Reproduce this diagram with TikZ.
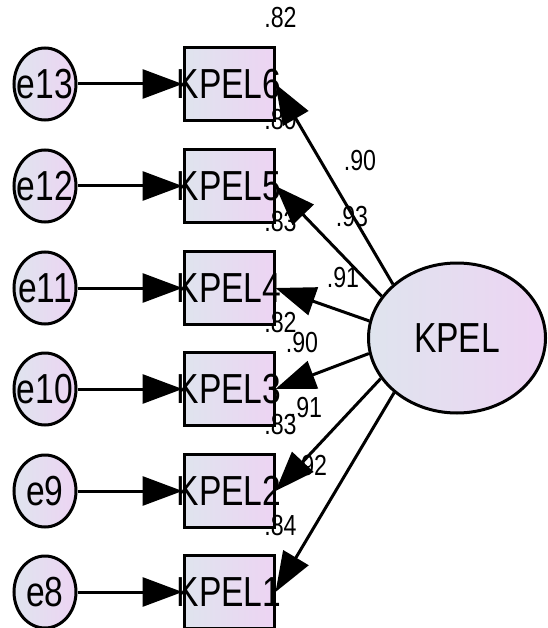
\documentclass[tikz,border=0pt]{standalone}
\usepackage{fontspec}
\newfontfamily\amosfont[FakeStretch=0.8]{Liberation Sans}
\usetikzlibrary{arrows.meta, shapes.geometric}
\definecolor{shadeA}{HTML}{DFE4EE}
\definecolor{shadeB}{HTML}{EDD4F3}
\tikzset{
-{Triangle[length=40pt,width=29pt]}, % big filled arrow heads
varname/.style={font=\amosfont\fontsize{42}{42}\selectfont, inner sep=0pt}, % variable names
item/.style={draw, rectangle, minimum width=90pt, minimum height=73pt, inner sep=0pt, left color=shadeA, right color=shadeB}, % observed variables
err/.style={draw, ellipse, minimum width=62pt, minimum height=72pt, inner sep=0pt, left color=shadeA, right color=shadeB}, % error terms
factor/.style={draw, ellipse, minimum width=177pt, minimum height=150pt, inner sep=0pt, left color=shadeA, right color=shadeB}, % latent variable
coef/.style={font=\amosfont\fontsize{29}{29}\selectfont, inner sep=0pt}, % estimates
}

\begin{document}
\begin{tikzpicture}[x=1pt, y=-1pt, line width=3pt]
    \useasboundingbox (0,0) rectangle (547,628);
    \node[factor, label={[varname]center:KPEL}] (KPEL) at (457,338) {};
    \foreach \i/\e/\y in {6/13/84, 5/12/186, 4/11/288, 3/10/389, 2/9/491, 1/8/592} {
        \node[item, label={[varname]center:KPEL\i}] (k\i) at (229,\y) {};
        \node[err, label={[varname]center:e\e}] (e\e) at (45,\y) {};
        \draw (e\e) -- (k\i);
    }
    % squared multiple correlations
    \foreach \i/\r in {6/82, 5/80, 4/83, 3/82, 2/83, 1/84}
        \node[coef] (r\i) at ([xshift=5pt, yshift=28pt]k\i.north east) {.\r};
    % loadings
    \foreach \i/\a/\l/\x/\y in {6/140/90/360/161, 5/151/93/352/217, 4/169/91/343/278, 3/190/90/302/343, 2/208/91/306/408, 1/221/92/311/466} {
        \node[coef] (b\i) at (\x,\y) {.\l};
        \draw (KPEL.\a) -- (k\i.east);
    }
\end{tikzpicture}
\end{document}
